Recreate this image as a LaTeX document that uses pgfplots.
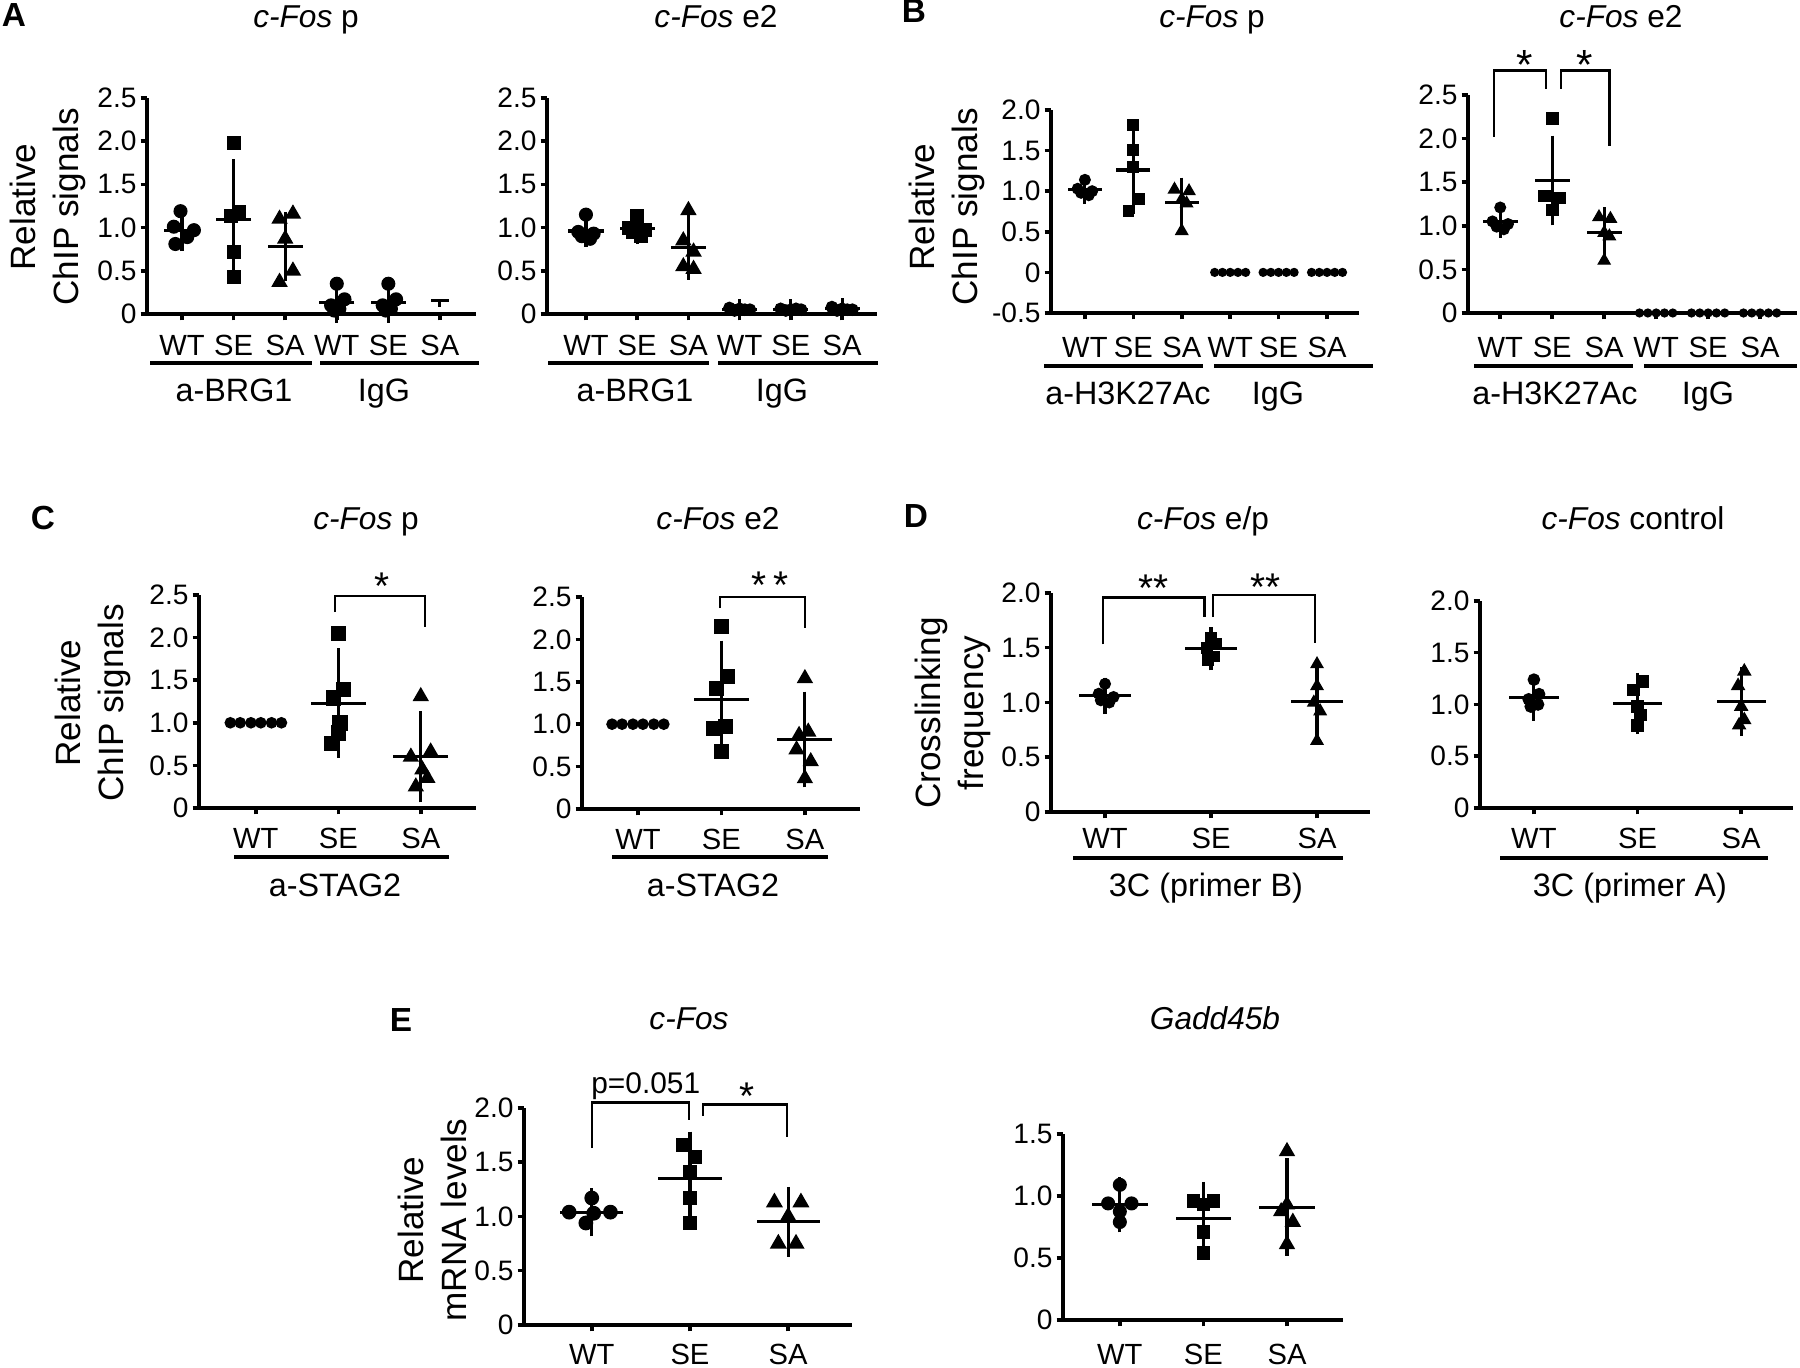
\documentclass[border=0pt]{standalone}
\usepackage{fontspec}
\setmainfont{Liberation Sans}
\usepackage{pgfplots}
\pgfplotsset{compat=1.18}
\newcommand{\titlefont}{\fontsize{9}{11}\selectfont}
\newcommand{\labfont}{\fontsize{10}{12.2}\selectfont}
\newcommand{\grpfont}{\fontsize{9.2}{11}\selectfont}
\newcommand{\catfont}{\fontsize{8.3}{10}\selectfont}
\newcommand{\tickfont}{\fontsize{8}{9.5}\selectfont}
\newcommand{\starfont}{\fontsize{11}{13}\selectfont}
\newcommand{\letfont}{\fontsize{9.5}{11}\selectfont\bfseries}
\pgfplotsset{
 prism/.style={scale only axis, clip=false, axis lines=left,
   axis line style={-, line width=1.1pt, black},
   tick align=outside, major tick length=1.8pt, tick style={line width=1pt, black},
   yticklabel style={font=\tickfont, inner sep=1pt},
   xticklabel style={font=\catfont, anchor=center},
   anchor=south west},
 pts/.style={only marks, black, mark size=#1},
 msd/.style 2 args={only marks, black, mark=-, mark size=#1, mark options={line width=0.9pt},
   error bars/.cd, y dir=both, y explicit, error bar style={line width=0.9pt, black},
   error mark options={line width=0.9pt, mark size=#2, black}},
}
\tikzset{brk/.style={line width=0.7pt, black}, grp/.style={line width=0.9pt, black}}
\begin{document}
\begin{tikzpicture}
\path[use as bounding box] (0,0) rectangle (180mm,136.8mm);

% ---------------- A left
\begin{axis}[prism, at={(14.7mm,105.4mm)}, width=32.9mm, height=21.6mm,
  xmin=-0.68, xmax=5.70, ymin=0, ymax=2.5,
  xtick={0,...,5}, xticklabels={WT,SE,SA,WT,SE,SA},
  ytick={0,0.5,1,1.5,2,2.5}, yticklabels={0,0.5,1.0,1.5,2.0,2.5},
  xticklabel style={yshift=-7.2pt}]
\addplot[pts=1.8pt, mark=*] coordinates {(-0.03,1.19) (-0.16,1.01) (0.23,0.97) (0.10,0.89) (-0.13,0.81)};
\addplot[pts=1.8pt, mark=square*] coordinates {(1,1.98) (1.11,1.18) (0.94,1.13) (1,0.72) (1,0.43)};
\addplot[pts=2.3pt, mark=triangle*] coordinates {(1.89,1.10) (2.15,1.16) (2,0.87) (2.15,0.50) (1.89,0.37)};
\addplot[pts=1.8pt, mark=*] coordinates {(3,0.35) (3.15,0.17) (2.89,0.10) (3.05,0.06) (2.95,0.04)};
\addplot[pts=1.8pt, mark=*] coordinates {(4,0.35) (4.15,0.17) (3.89,0.10) (4.05,0.06) (3.95,0.04)};
\addplot[msd={5pt}{2.5pt}] coordinates {(0,0.97) +- (0,0.14) (1,1.09) +- (0,0.60) (2,0.78) +- (0,0.30) (3,0.13) +- (0,0.13) (4,0.13) +- (0,0.13)};
\addplot[black, line width=0.9pt] coordinates {(4.83,0.16) (5.17,0.16)};
\addplot[black, line width=0.9pt] coordinates {(5,0.16) (5,0.08)};
\end{axis}

% ---------------- A right
\begin{axis}[prism, at={(54.7mm,105.4mm)}, width=33.0mm, height=21.6mm,
  xmin=-0.76, xmax=5.68, ymin=0, ymax=2.5,
  xtick={0,...,5}, xticklabels={WT,SE,SA,WT,SE,SA},
  ytick={0,0.5,1,1.5,2,2.5}, yticklabels={0,0.5,1.0,1.5,2.0,2.5},
  xticklabel style={yshift=-7.2pt}]
\addplot[pts=1.8pt, mark=*] coordinates {(0,1.15) (-0.15,0.95) (0.15,0.93) (-0.08,0.90) (0.08,0.87)};
\addplot[pts=1.8pt, mark=square*] coordinates {(1,1.13) (0.85,1.0) (1.15,0.97) (0.92,0.95) (1.08,0.9)};
\addplot[pts=2.3pt, mark=triangle*] coordinates {(2,1.2) (1.9,0.85) (2.1,0.72) (1.9,0.55) (2.1,0.52)};
\addplot[pts=1.6pt, mark=*] coordinates {(2.8,0.07) (3,0.06) (3.2,0.05) (2.9,0.04) (3.1,0.05)
  (3.8,0.06) (4,0.05) (4.2,0.05) (3.9,0.04) (4.1,0.06)
  (4.8,0.08) (5,0.06) (5.2,0.05) (4.9,0.04) (5.1,0.05)};
\addplot[msd={5pt}{2.5pt}] coordinates {(0,0.96) +- (0,0.08) (1,0.99) +- (0,0.08) (2,0.77) +- (0,0.27) (3,0.05) +- (0,0.02) (4,0.05) +- (0,0.02) (5,0.06) +- (0,0.02)};
\end{axis}

% ---------------- B left
\begin{axis}[prism, at={(105.1mm,105.5mm)}, width=30.8mm, height=20.3mm,
  xmin=-0.70, xmax=5.66, ymin=-0.5, ymax=2.0,
  xtick={0,...,5}, xticklabels={WT,SE,SA,WT,SE,SA},
  ytick={-0.5,0,0.5,1,1.5,2}, yticklabels={-0.5,0,0.5,1.0,1.5,2.0},
  xticklabel style={yshift=-8.1pt}]
\addplot[pts=1.5pt, mark=*] coordinates {(0,1.14) (-0.15,1.03) (0.15,1.0) (-0.08,0.98) (0.08,0.95)};
\addplot[pts=1.5pt, mark=square*] coordinates {(1,1.82) (1,1.51) (1,1.3) (1.12,0.9) (0.9,0.76)};
\addplot[pts=1.9pt, mark=triangle*] coordinates {(1.85,1.02) (2.15,1.0) (2,0.9) (2.1,0.85) (2,0.51)};
\addplot[pts=1.1pt, mark=*] coordinates {(2.68,0) (2.84,0) (3,0) (3.16,0) (3.32,0)
  (3.68,0) (3.84,0) (4,0) (4.16,0) (4.32,0) (4.68,0) (4.84,0) (5,0) (5.16,0) (5.32,0)};
\addplot[msd={4.8pt}{2.5pt}] coordinates {(0,1.02) +- (0,0.07) (1,1.26) +- (0,0.43) (2,0.86) +- (0,0.20)};
\end{axis}

% ---------------- B right
\begin{axis}[prism, at={(146.8mm,105.5mm)}, width=32.9mm, height=21.8mm,
  xmin=-0.62, xmax=5.71, ymin=0, ymax=2.5,
  xtick={0,...,5}, xticklabels={WT,SE,SA,WT,SE,SA},
  ytick={0,0.5,1,1.5,2,2.5}, yticklabels={0,0.5,1.0,1.5,2.0,2.5},
  xticklabel style={yshift=-8.1pt}]
\addplot[pts=1.5pt, mark=*] coordinates {(0,1.21) (-0.15,1.05) (0.15,1.02) (-0.07,0.99) (0.07,0.96)};
\addplot[pts=1.6pt, mark=square*] coordinates {(1,2.23) (0.85,1.34) (1.15,1.32) (1,1.18)};
\addplot[pts=1.9pt, mark=triangle*] coordinates {(1.9,1.1) (2.12,1.08) (2,0.92) (2.1,0.88) (2,0.6)};
\addplot[pts=1.1pt, mark=*] coordinates {(2.68,0) (2.84,0) (3,0) (3.16,0) (3.32,0)
  (3.68,0) (3.84,0) (4,0) (4.16,0) (4.32,0) (4.68,0) (4.84,0) (5,0) (5.16,0) (5.32,0)};
\addplot[msd={5pt}{2.6pt}] coordinates {(0,1.05) +- (0,0.08) (1,1.52) +- (0,0.41) (2,0.92) +- (0,0.19)};
\draw[brk] (axis cs:-0.12,2.02) |- (axis cs:0.88,2.78) -- (axis cs:0.88,2.57);
\draw[brk] (axis cs:1.17,2.57) |- (axis cs:2.10,2.78) -- (axis cs:2.10,1.92);
\node[font=\fontsize{12}{14}\selectfont, anchor=base] at (axis cs:0.48,2.68) {*};
\node[font=\fontsize{12}{14}\selectfont, anchor=base] at (axis cs:1.63,2.68) {*};
\end{axis}

% ---------------- C left
\begin{axis}[prism, at={(19.9mm,56.0mm)}, width=27.7mm, height=21.3mm,
  xmin=-0.69, xmax=2.67, ymin=0, ymax=2.5,
  xtick={0,1,2}, xticklabels={WT,SE,SA},
  ytick={0,0.5,1,1.5,2,2.5}, yticklabels={0,0.5,1.0,1.5,2.0,2.5},
  xticklabel style={yshift=-6.9pt}]
\addplot[pts=1.45pt, mark=*] coordinates {(-0.31,1) (-0.19,1) (-0.06,1) (0.06,1) (0.19,1) (0.31,1)};
\addplot[pts=2pt, mark=square*] coordinates {(1,2.05) (1.06,1.39) (0.94,1.29) (1.02,1.0) (1,0.88) (0.92,0.76)};
\addplot[pts=2.3pt, mark=triangle*] coordinates {(2,1.31) (2.12,0.66) (1.88,0.6) (2.02,0.45) (2.08,0.35) (1.94,0.25)};
\addplot[msd={7.8pt}{4.2pt}] coordinates {(1,1.23) +- (0,0.47) (2,0.60) +- (0,0.36)};
\draw[brk] (axis cs:0.96,2.30) |- (axis cs:2.05,2.49) -- (axis cs:2.05,2.12);
\node[font=\starfont, anchor=base] at (axis cs:1.53,2.45) {*};
\end{axis}

% ---------------- C right
\begin{axis}[prism, at={(58.2mm,55.9mm)}, width=27.8mm, height=21.2mm,
  xmin=-0.67, xmax=2.66, ymin=0, ymax=2.5,
  xtick={0,1,2}, xticklabels={WT,SE,SA},
  ytick={0,0.5,1,1.5,2,2.5}, yticklabels={0,0.5,1.0,1.5,2.0,2.5},
  xticklabel style={yshift=-6.9pt}]
\addplot[pts=1.45pt, mark=*] coordinates {(-0.31,1) (-0.19,1) (-0.06,1) (0.06,1) (0.19,1) (0.31,1)};
\addplot[pts=2pt, mark=square*] coordinates {(1,2.15) (1.07,1.56) (0.94,1.42) (1.05,0.97) (0.91,0.95) (1,0.68)};
\addplot[pts=2.3pt, mark=triangle*] coordinates {(2,1.54) (2.04,0.91) (1.93,0.87) (1.9,0.70) (2.07,0.56) (2,0.36)};
\addplot[msd={7.8pt}{4.2pt}] coordinates {(1,1.29) +- (0,0.52) (2,0.82) +- (0,0.39)};
\draw[brk] (axis cs:0.98,2.37) |- (axis cs:2.0,2.5) -- (axis cs:2.0,2.13);
\node[font=\starfont, anchor=base] at (axis cs:1.58,2.48) {*\hspace{2pt}*};
\end{axis}

% ---------------- D left
\begin{axis}[prism, at={(105.1mm,55.6mm)}, width=31.9mm, height=21.9mm,
  xmin=-0.51, xmax=2.5, ymin=0, ymax=2,
  xtick={0,1,2}, xticklabels={WT,SE,SA},
  ytick={0,0.5,1,1.5,2}, yticklabels={0,0.5,1.0,1.5,2.0},
  xticklabel style={yshift=-5.8pt}]
\addplot[pts=1.5pt, mark=*] coordinates {(0,1.17) (-0.06,1.08) (0.08,1.05) (-0.04,1.02) (0.04,1.0)};
\addplot[pts=1.5pt, mark=square*] coordinates {(1,1.59) (1.05,1.53) (0.96,1.5) (1.03,1.42) (0.97,1.39)};
\addplot[pts=1.9pt, mark=triangle*] coordinates {(2,1.35) (2,1.15) (1.97,1.0) (2.03,0.92) (2,0.65)};
\addplot[msd={7.4pt}{3.3pt}] coordinates {(0,1.06) +- (0,0.06) (1,1.49) +- (0,0.09) (2,1.01) +- (0,0.24)};
\draw[brk] (axis cs:-0.02,1.53) |- (axis cs:0.94,1.96) -- (axis cs:0.94,1.78);
\draw[brk] (axis cs:1.02,1.78) |- (axis cs:1.98,1.98) -- (axis cs:1.98,1.54);
\node[font=\starfont, anchor=base] at (axis cs:0.46,1.92) {**};
\node[font=\starfont, anchor=base] at (axis cs:1.51,1.93) {**};
\end{axis}

% ---------------- D right
\begin{axis}[prism, at={(148.0mm,56.0mm)}, width=31.3mm, height=20.7mm,
  xmin=-0.52, xmax=2.5, ymin=0, ymax=2,
  xtick={0,1,2}, xticklabels={WT,SE,SA},
  ytick={0,0.5,1,1.5,2}, yticklabels={0,0.5,1.0,1.5,2.0},
  xticklabel style={yshift=-6.9pt}]
\addplot[pts=1.6pt, mark=*] coordinates {(0,1.24) (0.05,1.1) (-0.05,1.05) (0.04,1.0) (-0.03,0.98)};
\addplot[pts=1.6pt, mark=square*] coordinates {(1.05,1.22) (0.96,1.14) (1,0.98) (1.03,0.9) (1,0.8)};
\addplot[pts=2pt, mark=triangle*] coordinates {(2.03,1.32) (1.97,1.18) (2,0.98) (2.03,0.85) (1.98,0.8)};
\addplot[msd={7pt}{3.7pt}] coordinates {(0,1.07) +- (0,0.10) (1,1.01) +- (0,0.17) (2,1.03) +- (0,0.21)};
\end{axis}

% ---------------- E left
\begin{axis}[prism, at={(52.4mm,4.3mm)}, width=32.8mm, height=21.7mm,
  xmin=-0.69, xmax=2.65, ymin=0, ymax=2,
  xtick={0,1,2}, xticklabels={WT,SE,SA},
  ytick={0,0.5,1,1.5,2}, yticklabels={0,0.5,1.0,1.5,2.0},
  axis line style={line width=0.9pt},
  xticklabel style={yshift=-6.6pt}]
\addplot[pts=1.9pt, mark=*] coordinates {(-0.23,1.04) (0,1.17) (0.19,1.04) (-0.06,0.94) (0.02,1.03)};
\addplot[pts=1.8pt, mark=square*] coordinates {(0.93,1.66) (1.05,1.55) (1,1.41) (1,1.17) (1,0.94)};
\addplot[pts=2.4pt, mark=triangle*] coordinates {(1.86,1.13) (2.13,1.13) (2,1.0) (1.9,0.75) (2.08,0.75)};
\addplot[msd={9pt}{4.4pt}] coordinates {(0,1.04) +- (0,0.08) (1,1.35) +- (0,0.29) (2,0.95) +- (0,0.18)};
\draw[brk] (axis cs:0,1.63) |- (axis cs:0.99,2.05) -- (axis cs:0.99,1.89);
\draw[brk] (axis cs:1.13,1.93) |- (axis cs:1.99,2.03) -- (axis cs:1.99,1.73);
\node[font=\fontsize{8.5}{10}\selectfont, anchor=base] at (axis cs:0.55,2.13) {p=0.051};
\node[font=\starfont, anchor=base] at (axis cs:1.58,1.99) {*};
\end{axis}

% ---------------- E right
\begin{axis}[prism, at={(106.3mm,4.8mm)}, width=28.0mm, height=18.6mm,
  xmin=-0.68, xmax=2.67, ymin=0, ymax=1.5,
  xtick={0,1,2}, xticklabels={WT,SE,SA},
  ytick={0,0.5,1,1.5}, yticklabels={0,0.5,1.0,1.5},
  axis line style={line width=0.9pt},
  xticklabel style={yshift=-8.0pt}]
\addplot[pts=1.8pt, mark=*] coordinates {(0,1.09) (-0.14,0.94) (0.14,0.94) (0,0.875) (0,0.79)};
\addplot[pts=1.7pt, mark=square*] coordinates {(0.88,0.96) (1.12,0.96) (1,0.93) (1,0.71) (1,0.54)};
\addplot[pts=2.3pt, mark=triangle*] coordinates {(2,1.36) (2,0.93) (1.93,0.875) (2.07,0.79) (2,0.61)};
\addplot[msd={7.9pt}{4pt}] coordinates {(0,0.93) +- (0,0.11) (1,0.82) +- (0,0.18) (2,0.91) +- (0,0.28)};
\end{axis}

% ---------------- titles
\node[font=\titlefont, anchor=base] at (30.6mm,134.0mm) {\textit{c-Fos} p};
\node[font=\titlefont, anchor=base] at (71.6mm,134.0mm) {\textit{c-Fos} e2};
\node[font=\titlefont, anchor=base] at (121.2mm,134.0mm) {\textit{c-Fos} p};
\node[font=\titlefont, anchor=base] at (162.1mm,134.0mm) {\textit{c-Fos} e2};
\node[font=\titlefont, anchor=base] at (36.6mm,83.8mm) {\textit{c-Fos} p};
\node[font=\titlefont, anchor=base] at (71.8mm,83.8mm) {\textit{c-Fos} e2};
\node[font=\titlefont, anchor=base] at (120.3mm,83.8mm) {\textit{c-Fos} e/p};
\node[font=\titlefont, anchor=base] at (163.3mm,83.8mm) {\textit{c-Fos} control};
\node[font=\titlefont, anchor=base] at (68.9mm,33.8mm) {\textit{c-Fos}};
\node[font=\titlefont, anchor=base] at (121.5mm,33.8mm) {\textit{Gadd45b}};
% panel letters
\node[font=\letfont, anchor=base] at (1.4mm,134.1mm) {A};
\node[font=\letfont, anchor=base] at (91.4mm,134.5mm) {B};
\node[font=\letfont, anchor=base] at (4.3mm,83.8mm) {C};
\node[font=\letfont, anchor=base] at (91.6mm,84.0mm) {D};
\node[font=\letfont, anchor=base] at (40.1mm,33.6mm) {E};
% y labels
\node[font=\labfont, rotate=90, align=center] at (4.8mm,116.1mm) {Relative\\ChIP signals};
\node[font=\labfont, rotate=90, align=center] at (94.7mm,116.1mm) {Relative\\ChIP signals};
\node[font=\labfont, rotate=90, align=center] at (9.3mm,66.5mm) {Relative\\ChIP signals};
\node[font=\labfont, rotate=90, align=center] at (95.3mm,65.5mm) {Crosslinking\\frequency};
\node[font=\labfont, rotate=90, align=center] at (43.2mm,14.8mm) {Relative\\mRNA levels};
% group bars and labels
\draw[grp] (15.0mm,100.5mm) -- (31.2mm,100.5mm);
\draw[grp] (32.0mm,100.5mm) -- (47.9mm,100.5mm);
\node[font=\grpfont, anchor=base] at (23.4mm,96.6mm) {a-BRG1};
\node[font=\grpfont, anchor=base] at (38.4mm,96.6mm) {IgG};
\draw[grp] (54.8mm,100.5mm) -- (70.9mm,100.5mm);
\draw[grp] (71.8mm,100.5mm) -- (87.8mm,100.5mm);
\node[font=\grpfont, anchor=base] at (63.5mm,96.6mm) {a-BRG1};
\node[font=\grpfont, anchor=base] at (78.2mm,96.6mm) {IgG};
\draw[grp] (104.4mm,100.2mm) -- (120.3mm,100.2mm);
\draw[grp] (121.4mm,100.2mm) -- (137.3mm,100.2mm);
\node[font=\grpfont, anchor=base] at (112.8mm,96.3mm) {a-H3K27Ac};
\node[font=\grpfont, anchor=base] at (127.8mm,96.3mm) {IgG};
\draw[grp] (147.4mm,100.2mm) -- (163.3mm,100.2mm);
\draw[grp] (164.4mm,100.2mm) -- (179.7mm,100.2mm);
\node[font=\grpfont, anchor=base] at (155.5mm,96.3mm) {a-H3K27Ac};
\node[font=\grpfont, anchor=base] at (170.8mm,96.3mm) {IgG};
\draw[grp] (23.4mm,51.1mm) -- (44.9mm,51.1mm);
\node[font=\grpfont, anchor=base] at (33.5mm,47.1mm) {a-STAG2};
\draw[grp] (61.2mm,51.1mm) -- (82.8mm,51.1mm);
\node[font=\grpfont, anchor=base] at (71.3mm,47.1mm) {a-STAG2};
\draw[grp] (107.3mm,51.0mm) -- (134.3mm,51.0mm);
\node[font=\grpfont, anchor=base] at (120.6mm,47.1mm) {3C (primer B)};
\draw[grp] (150.0mm,51.0mm) -- (176.8mm,51.0mm);
\node[font=\grpfont, anchor=base] at (163.0mm,47.1mm) {3C (primer A)};
\end{tikzpicture}
\end{document}
